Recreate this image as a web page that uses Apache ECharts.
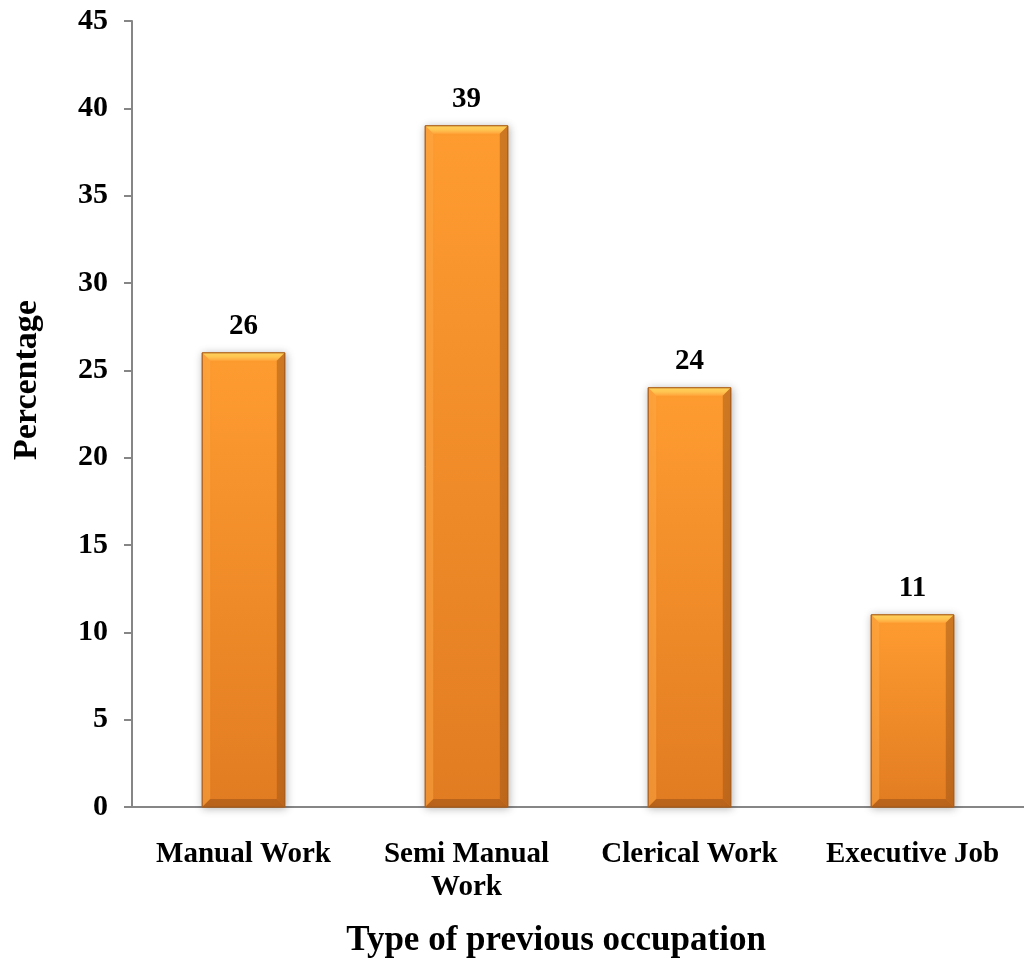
<!DOCTYPE html>
<html>
<head>
<meta charset="utf-8">
<script src="https://cdn.jsdelivr.net/npm/echarts@6/dist/echarts.min.js"></script>
<style>
  html, body { margin: 0; padding: 0; background: #ffffff; }
  #chart { width: 1024px; height: 963px; }
</style>
</head>
<body>
<div id="chart"></div>
<script>
// Previous occupation of respondents, in percent
const categories = ['Manual Work', 'Semi Manual\nWork', 'Clerical Work', 'Executive Job'];
const percentages = [26, 39, 24, 11];
const yTicks = { min: 0, max: 45, interval: 5 };

const FONT = '"Liberation Serif", "Times New Roman", serif';

// Bevelled orange column drawn from the category/value scales
function renderBevelBar(params, api) {
  const idx = api.value(0);
  const val = api.value(1);
  const top = api.coord([idx, val]);
  const base = api.coord([idx, 0]);
  const w = api.size([1, 0])[0] * 0.37;
  const x0 = top[0] - w / 2;
  const x1 = top[0] + w / 2;
  const y0 = top[1];
  const y1 = base[1];
  const b = Math.min(8, (y1 - y0) / 3);

  const face = new echarts.graphic.LinearGradient(0, 0, 0, 1, [
    { offset: 0, color: '#FF9C30' },
    { offset: 1, color: '#E27C22' }
  ]);

  return {
    type: 'group',
    children: [
      { type: 'rect', shape: { x: x0, y: y0, width: w, height: y1 - y0 },
        style: { fill: face, stroke: '#B96A22', lineWidth: 1,
                 shadowBlur: 8, shadowColor: 'rgba(0,0,0,0.28)', shadowOffsetX: 1, shadowOffsetY: 1 } },
      // top bevel
      { type: 'polygon', shape: { points: [[x0, y0], [x1, y0], [x1 - b, y0 + b], [x0 + b, y0 + b]] },
        style: { fill: new echarts.graphic.LinearGradient(0, 0, 0, 1, [
          { offset: 0, color: '#FFD25A' }, { offset: 0.5, color: '#FFC550' }, { offset: 1, color: '#FFA53A' }]) } },
      // left bevel
      { type: 'polygon', shape: { points: [[x0, y0], [x0 + b, y0 + b], [x0 + b, y1 - b], [x0, y1]] },
        style: { fill: 'rgba(255,170,70,0.5)' } },
      // right bevel
      { type: 'polygon', shape: { points: [[x1, y0], [x1, y1], [x1 - b, y1 - b], [x1 - b, y0 + b]] },
        style: { fill: 'rgba(150,80,20,0.45)' } },
      // bottom bevel
      { type: 'polygon', shape: { points: [[x0, y1], [x1, y1], [x1 - b, y1 - b], [x0 + b, y1 - b]] },
        style: { fill: 'rgba(140,70,20,0.45)' } },
      // outline
      { type: 'rect', shape: { x: x0, y: y0, width: w, height: y1 - y0 },
        style: { fill: 'none', stroke: '#A85E1E', lineWidth: 1 } },
      // value label
      { type: 'text', x: top[0], y: y0 - 12,
        style: { text: String(val), fill: '#000', font: 'bold 29px ' + FONT,
                 textAlign: 'center', textVerticalAlign: 'bottom' } }
    ]
  };
}

const chart = echarts.init(document.getElementById('chart'), null, { renderer: 'canvas' });
chart.setOption({
  backgroundColor: '#ffffff',
  animation: false,
  grid: { left: 132, right: 0, top: 21, bottom: 155 },
  xAxis: {
    type: 'category',
    data: categories,
    name: 'Type of previous occupation',
    nameLocation: 'middle',
    nameGap: 116,
    nameTextStyle: { fontFamily: FONT, fontWeight: 'bold', fontSize: 35, color: '#000',
                     padding: [0, 44, 0, 0] },
    axisLine: { lineStyle: { color: '#868686', width: 2 } },
    axisTick: { show: false },
    axisLabel: { fontFamily: FONT, fontWeight: 'bold', fontSize: 29, color: '#000',
                 margin: 31, lineHeight: 33, interval: 0 }
  },
  yAxis: {
    type: 'value',
    min: yTicks.min, max: yTicks.max, interval: yTicks.interval,
    name: 'Percentage',
    nameLocation: 'middle',
    nameGap: 88,
    nameRotate: 90,
    nameTextStyle: { fontFamily: FONT, fontWeight: 'bold', fontSize: 34, color: '#000',
                     padding: [0, 0, 0, 68] },
    splitLine: { show: false },
    axisLine: { show: true, lineStyle: { color: '#868686', width: 2 } },
    axisTick: { show: true, inside: false, length: 8, lineStyle: { color: '#868686', width: 2 } },
    axisLabel: { fontFamily: FONT, fontWeight: 'bold', fontSize: 30, color: '#000', margin: 24 }
  },
  series: [{
    type: 'custom',
    renderItem: renderBevelBar,
    encode: { x: 0, y: 1 },
    data: percentages.map((v, i) => [i, v])
  }]
});
</script>
</body>
</html>
